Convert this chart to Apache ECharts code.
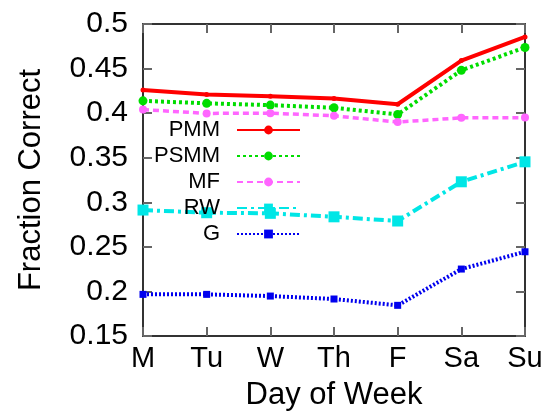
<!DOCTYPE html>
<html>
<head>
<meta charset="utf-8">
<script src="https://cdn.jsdelivr.net/npm/echarts@6/dist/echarts.min.js"></script>
<style>
  html, body { margin: 0; padding: 0; background: #fff; }
  #main { width: 546px; height: 419px; }
</style>
</head>
<body>
<div id="main"></div>
<script>
var days = ['M', 'Tu', 'W', 'Th', 'F', 'Sa', 'Su']
var pmm = [0.426, 0.421, 0.419, 0.4165, 0.41, 0.459, 0.4855]
var psmm = [0.4138, 0.411, 0.409, 0.406, 0.3985, 0.448, 0.4737]
var mf = [0.404, 0.3997, 0.40, 0.397, 0.390, 0.3947, 0.395]
var rw = [0.2913, 0.2883, 0.2876, 0.2837, 0.279, 0.323, 0.3454]
var g = [0.1967, 0.1967, 0.1948, 0.1915, 0.1844, 0.2251, 0.2445]

var font = 'Liberation Sans'
var chart = echarts.init(document.getElementById('main'))

function makeLine(name, data, color, width, dash, symbol, size) {
  return {
    name: name,
    type: 'line',
    data: data,
    symbol: symbol,
    symbolSize: size,
    showSymbol: true,
    animation: false,
    itemStyle: { color: color },
    lineStyle: { color: color, width: width, type: dash }
  }
}

var option = {
  animation: false,
  grid: { left: 143, right: 21, top: 24, bottom: 83 },
  legend: {
    orient: 'vertical',
    align: 'right',
    right: 245,
    top: 119,
    padding: 0,
    itemGap: 4,
    itemWidth: 63,
    itemHeight: 11,
    textStyle: { fontFamily: font, fontSize: 22, color: '#000', lineHeight: 20, padding: [0, 12, 0, 0] },
    data: ['PMM', 'PSMM', 'MF', 'RW', 'G']
  },
  xAxis: [{
    type: 'category',
    data: days,
    boundaryGap: false,
    name: 'Day of Week',
    nameLocation: 'middle',
    nameGap: 44,
    nameTextStyle: { fontFamily: font, fontSize: 31, color: '#000' },
    axisLine: { lineStyle: { color: '#333', width: 2 } },
    axisTick: { inside: true, length: 9, lineStyle: { color: '#666', width: 2 } },
    axisLabel: { fontFamily: font, fontSize: 29, color: '#000', margin: 8 },
    splitLine: { show: false }
  }, {
    type: 'category',
    data: days,
    boundaryGap: false,
    position: 'top',
    axisLine: { lineStyle: { color: '#333', width: 2 } },
    axisTick: { inside: true, length: 9, lineStyle: { color: '#666', width: 2 } },
    axisLabel: { show: false },
    splitLine: { show: false }
  }],
  yAxis: [{
    type: 'value',
    min: 0.15,
    max: 0.5,
    interval: 0.05,
    name: 'Fraction Correct',
    nameLocation: 'middle',
    nameRotate: 90,
    nameGap: 96,
    nameTextStyle: { fontFamily: font, fontSize: 31, color: '#000' },
    axisLine: { show: true, lineStyle: { color: '#333', width: 2 } },
    axisTick: { show: true, inside: true, length: 9, lineStyle: { color: '#666', width: 2 } },
    axisLabel: { fontFamily: font, fontSize: 30, color: '#000', margin: 15 },
    splitLine: { show: false }
  }, {
    type: 'value',
    min: 0.15,
    max: 0.5,
    interval: 0.05,
    position: 'right',
    axisLine: { show: true, lineStyle: { color: '#333', width: 2 } },
    axisTick: { show: true, inside: true, length: 9, lineStyle: { color: '#666', width: 2 } },
    axisLabel: { show: false },
    splitLine: { show: false }
  }],
  series: [
    makeLine('PMM', pmm, '#ff0000', 4, 'solid', 'circle', 5),
    makeLine('PSMM', psmm, '#00dd00', 4, [3, 3], 'circle', 9),
    makeLine('MF', mf, '#ff66ff', 3.5, [6, 4], 'circle', 8),
    makeLine('RW', rw, '#00e6e6', 4, [10, 4, 3, 4], 'rect', 11),
    makeLine('G', g, '#0000ee', 4, [2, 2], 'rect', 7)
  ]
}

chart.setOption(option)
</script>
</body>
</html>
